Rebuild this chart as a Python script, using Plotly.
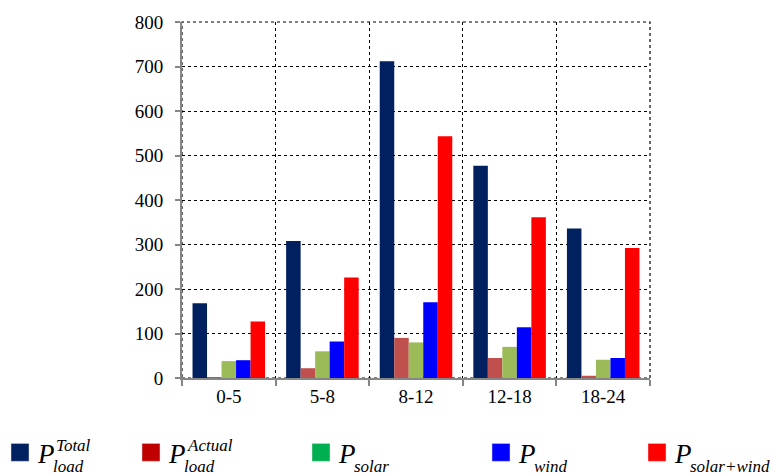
import plotly.graph_objects as go

categories = ["0-5", "5-8", "8-12", "12-18", "18-24"]
p_load_total = [168, 308, 712, 477, 336]
p_load_actual = [2, 22, 90, 45, 5]
p_solar = [38, 60, 80, 70, 41]
p_wind = [40, 82, 170, 114, 45]
p_solar_wind = [127, 226, 543, 361, 292]

series_values = [p_load_total, p_load_actual, p_solar, p_wind, p_solar_wind]
series_names = ["P_load^Total", "P_load^Actual", "P_solar", "P_wind", "P_solar+wind"]
bar_colors = ["#002060", "#C0504D", "#9BBB59", "#0000FF", "#FF0000"]
legend_colors = ["#002060", "#C00000", "#00B050", "#0000FF", "#FF0000"]
legend_sup = ["Total", "Actual", "", "", ""]
legend_sub = ["load", "load", "solar", "wind", "solar+wind"]

W, H = 771, 475
L, R, T, B = 182, 650, 19, 378

fig = go.Figure()
for name, vals, col in zip(series_names, series_values, bar_colors):
    fig.add_trace(go.Bar(x=categories, y=vals, name=name, marker_color=col,
                         marker_line_width=0, showlegend=False))

def px2x(px):
    return (px - L) / (R - L)

def py2y(py):
    return (B - py) / (B - T)

serif = "Liberation Serif"
# manual legend (stacked sub/superscripts)
sq_left = [11, 142, 312, 492, 648]
annotations = []
shapes = [dict(type="rect", xref="paper", yref="paper", x0=0, x1=1, y0=0, y1=1,
               line=dict(color="black", width=1.2, dash="dot"), layer="below")]
for i in range(5):
    x0 = sq_left[i]
    shapes.append(dict(type="rect", xref="paper", yref="paper",
                       x0=px2x(x0), x1=px2x(x0 + 18), y0=py2y(462), y1=py2y(444),
                       fillcolor=legend_colors[i], line=dict(width=0.5, color="#dddddd")))
    p_left = x0 + 24
    annotations.append(dict(xref="paper", yref="paper", x=px2x(p_left), y=py2y(455),
                            xanchor="left", yanchor="middle", showarrow=False,
                            text="<i>P</i>", font=dict(family=serif, size=27, color="black")))
    if legend_sup[i]:
        annotations.append(dict(xref="paper", yref="paper", x=px2x(p_left + 19), y=py2y(446),
                                xanchor="left", yanchor="middle", showarrow=False,
                                text="<i>%s</i>" % legend_sup[i],
                                font=dict(family=serif, size=17, color="black")))
    annotations.append(dict(xref="paper", yref="paper", x=px2x(p_left + 16), y=py2y(467),
                            xanchor="left", yanchor="middle", showarrow=False,
                            text="<i>%s</i>" % legend_sub[i],
                            font=dict(family=serif, size=17, color="black")))

fig.update_layout(
    width=W, height=H,
    margin=dict(l=L, r=W - R, t=T, b=H - B, pad=0),
    paper_bgcolor="white", plot_bgcolor="white",
    barmode="group", bargap=0.225, bargroupgap=0,
    font=dict(family=serif, size=19, color="black"),
    showlegend=False,
    annotations=annotations, shapes=shapes,
)
fig.update_xaxes(type="category", tickson="boundaries", showgrid=True, griddash="dot",
                 gridcolor="black", gridwidth=1, ticks="outside", ticklen=6,
                 tickcolor="#868686", tickwidth=1.5, showline=True, linecolor="#868686",
                 linewidth=2, tickfont=dict(family=serif, size=19, color="black"))
fig.update_yaxes(range=[0, 800], dtick=100, showgrid=True, griddash="dot",
                 gridcolor="black", gridwidth=1, zeroline=False, ticks="outside",
                 ticklen=5, tickcolor="#868686", tickwidth=1.5, showline=True,
                 linecolor="#868686", linewidth=2, ticklabelstandoff=8,
                 tickfont=dict(family=serif, size=19, color="black"))

fig.write_html("out.html", config={"displayModeBar": False},
               post_script="document.body.style.margin='0px';document.body.style.overflow='hidden';")
